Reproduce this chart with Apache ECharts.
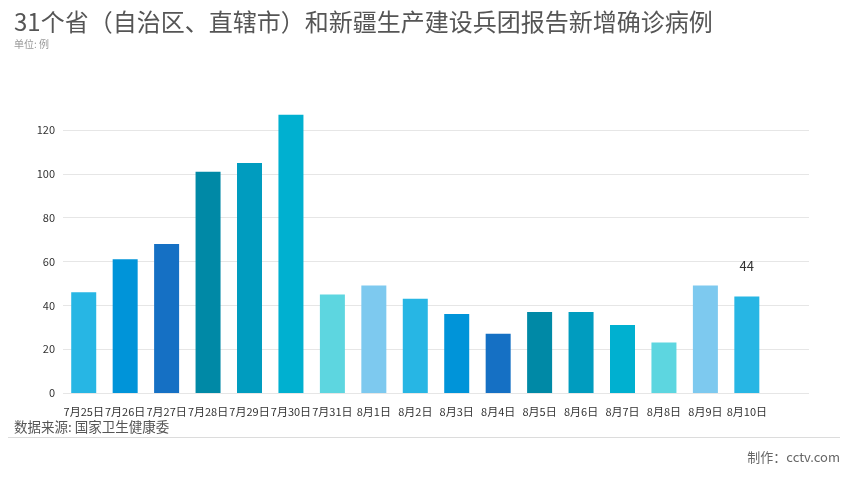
<!DOCTYPE html>
<html><head><meta charset="utf-8">
<script src="https://cdn.jsdelivr.net/npm/echarts@6/dist/echarts.min.js"></script>
<style>html,body{margin:0;padding:0;background:#fff}#c{width:854px;height:480px}</style>
</head><body><div id="c"></div>
<script>
const categories = ['7月25日','7月26日','7月27日','7月28日','7月29日','7月30日','7月31日','8月1日','8月2日','8月3日','8月4日','8月5日','8月6日','8月7日','8月8日','8月9日','8月10日',''];
const values = [46,61,68,101,105,127,45,49,43,36,27,37,37,31,23,49,44];
const palette = ['#27b6e4','#0094d9','#1570c4','#0089a6','#009cbf','#00b0d0','#5dd6e0','#7dc9ef'];
const yTicks = {min:0, max:140, interval:20};
const FONT = '"Noto Sans CJK SC","Noto Sans",sans-serif';

const chart = echarts.init(document.getElementById('c'));
chart.setOption({
  animation:false,
  backgroundColor:'#fff',
  title:[{
    text:'31个省（自治区、直辖市）和新疆生产建设兵团报告新增确诊病例',
    left:9, top:5,
    textStyle:{fontSize:24, fontWeight:'normal', color:'#555', fontFamily:FONT}
  },{
    text:'单位: 例', left:9, top:34,
    textStyle:{fontSize:10, fontWeight:'normal', color:'#999', fontFamily:FONT}
  }],
  grid:{left:63, right:45, top:86.2, bottom:87, containLabel:false},
  xAxis:{
    type:'category', data:categories,
    axisLine:{show:false}, axisTick:{show:false},
    axisLabel:{interval:0, color:'#333', fontSize:11, margin:13, fontFamily:FONT}
  },
  yAxis:{
    type:'value', min:yTicks.min, max:yTicks.max, interval:yTicks.interval,
    axisLine:{show:false}, axisTick:{show:false},
    axisLabel:{color:'#333', fontSize:11, margin:8, showMaxLabel:false, fontFamily:FONT},
    splitLine:{lineStyle:{color:'#e6e6e6'}, showMaxLine:false}
  },
  series:[{
    type:'bar', barWidth:25,
    data: values.map((v,i)=>({
      value:v,
      itemStyle:{color:palette[i%palette.length]},
      label: i===values.length-1 ? {show:true, position:'top', distance:24, color:'#333', fontSize:13, fontFamily:FONT} : {show:false}
    }))
  }],
  graphic:[
    {type:'text', left:14, top:420, style:{text:'数据来源: 国家卫生健康委', fill:'#555', font:'13.5px '+FONT}},
    {type:'line', shape:{x1:8,y1:437.5,x2:840,y2:437.5}, style:{stroke:'#dcdcdc', lineWidth:1}},
    {type:'text', right:14, top:451, style:{text:'制作：cctv.com', fill:'#666', font:'13px '+FONT}}
  ]
});
</script></body></html>
